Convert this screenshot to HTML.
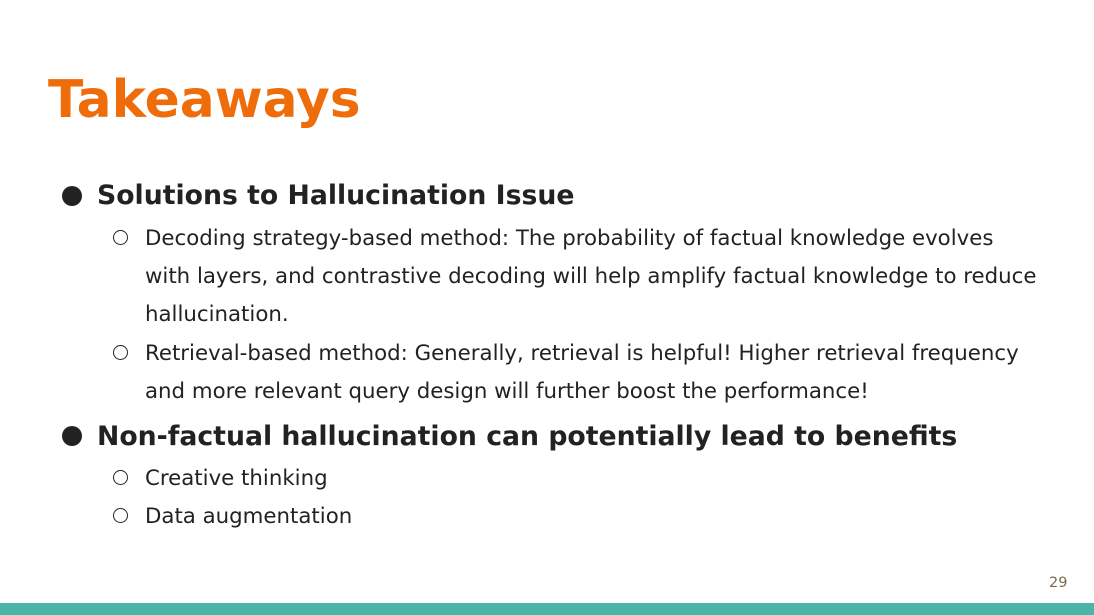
<!DOCTYPE html>
<html><head><meta charset="utf-8"><style>
body{margin:0;width:1094px;height:615px;position:relative;background:#fff;overflow:hidden;font-family:"DejaVu Sans","Liberation Sans",sans-serif;color:#222}
.t{position:absolute;line-height:1;white-space:nowrap}
.b{font-weight:bold;font-size:26.7px}
.s{font-size:21.3px;left:145px}
.dot{position:absolute;width:20px;height:20px;border-radius:50%;background:#222}
.ring{position:absolute;width:13px;height:13px;border-radius:50%;border:1.5px solid #222}
</style></head><body>
<div class="t" style="left:48px;top:75px;font-size:51.8px;font-weight:bold;color:#EE6C0A">Takeaways</div>

<div class="dot" style="left:62px;top:186px"></div>
<div class="t b" style="left:97px;top:183px">Solutions to Hallucination Issue</div>

<div class="ring" style="left:113px;top:230px"></div>
<div class="t s" style="top:228px">Decoding strategy-based method: The probability of factual knowledge evolves</div>
<div class="t s" style="top:266px">with layers, and contrastive decoding will help amplify factual knowledge to reduce</div>
<div class="t s" style="top:304px">hallucination.</div>

<div class="ring" style="left:113px;top:345px"></div>
<div class="t s" style="top:343px">Retrieval-based method: Generally, retrieval is helpful! Higher retrieval frequency</div>
<div class="t s" style="top:381px">and more relevant query design will further boost the performance!</div>

<div class="dot" style="left:62px;top:426px"></div>
<div class="t b" style="left:97px;top:424px">Non-factual hallucination can potentially lead to benefits</div>

<div class="ring" style="left:113px;top:470px"></div>
<div class="t s" style="top:468px">Creative thinking</div>
<div class="ring" style="left:113px;top:508px"></div>
<div class="t s" style="top:506px">Data augmentation</div>

<div class="t" style="left:1049px;top:576px;font-size:14.5px;color:#7a6a4a">29</div>
<div style="position:absolute;left:0;top:603px;width:1094px;height:12px;background:#4BB3A8"></div>
</body></html>
